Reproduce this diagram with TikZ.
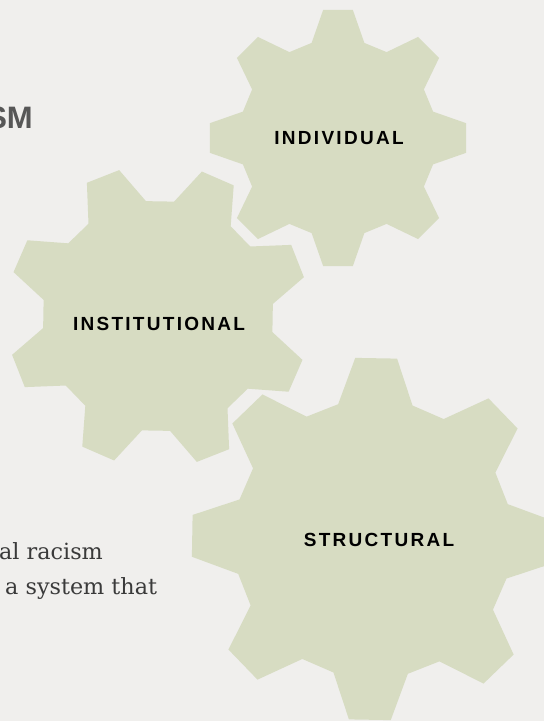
\documentclass[tikz,border=0pt]{standalone}
\usepackage{fontspec}
\newfontfamily\labelfont[LetterSpace=12]{Liberation Sans}
\newfontfamily\headfont{Liberation Sans}
\newfontfamily\bodyfont{DejaVu Serif}
\definecolor{paper}{RGB}{240,239,237}
\definecolor{sage}{RGB}{215,220,194}
\definecolor{headgray}{RGB}{87,87,87}
\definecolor{bodygray}{RGB}{58,58,58}
% #1 centre, #2 tip radius, #3 turn
\newcommand{\cog}[3]{\fill[sage,shift={#1},scale=#2/100,rotate=#3] (-15.5:76.5)
  \foreach \a in {0,45,...,315} {-- (\a-15.5:76.5) -- (\a-6.6:100) -- (\a+6.6:100) -- (\a+15.5:76.5)} -- cycle;}
\tikzset{coglabel/.style={font=\labelfont\bfseries\fontsize{19}{19}\selectfont,text=black,inner sep=0pt},
  bodytext/.style={font=\bodyfont\fontsize{22.3}{22.3}\selectfont,text=bodygray,inner sep=0pt,anchor=base west}}
\begin{document}
\begin{tikzpicture}[x=1pt,y=-1pt]
\useasboundingbox (0,0) rectangle (544,721);
\clip (0,0) rectangle (544,721);
\fill [paper] (0,0) rectangle (544,721);
\cog{(338,138)}{129}{0}
\cog{(158,316)}{151}{21.5}
\cog{(373,539)}{182}{-1}
\node [coglabel] (individual) at (339,138) {INDIVIDUAL};
\node [coglabel] (institutional) at (159,324) {INSTITUTIONAL};
\node [coglabel] (structural) at (379,540) {STRUCTURAL};
\node [font=\headfont\bfseries\fontsize{31}{31}\selectfont,text=headgray,inner sep=0pt,anchor=base east] (title) at (33,128) {SM};
\node [bodytext] (bodyone) at (-1,559) {al racism};
\node [bodytext] (bodytwo) at (5,594) {a system that};
\end{tikzpicture}
\end{document}
